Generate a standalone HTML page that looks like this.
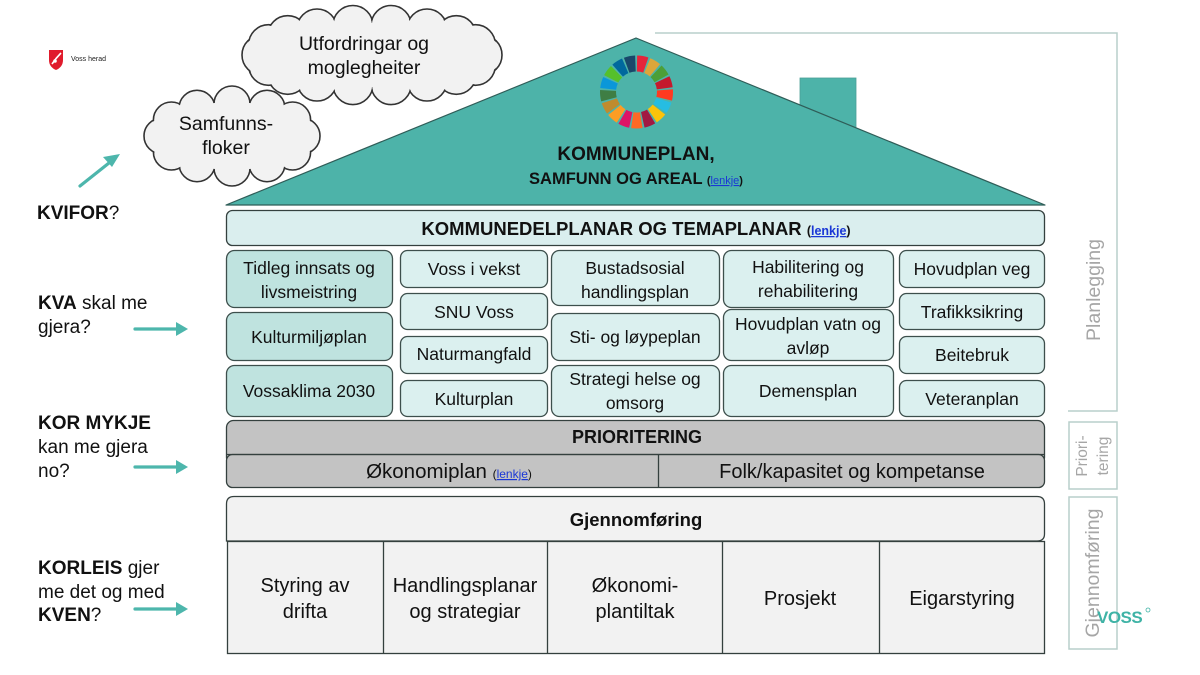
<!DOCTYPE html>
<html>
<head>
<meta charset="utf-8">
<style>
  html,body{margin:0;padding:0;background:#ffffff;}
  body{width:1200px;height:675px;overflow:hidden;}
  svg{display:block;}
</style>
</head>
<body>
<svg width="1200" height="675" viewBox="0 0 1200 675" xmlns="http://www.w3.org/2000/svg" font-family="Liberation Sans, sans-serif">
  <rect width="1200" height="675" fill="#ffffff"/>

  <!-- Logo -->
  <path d="M49,50 L63,50 L63,60 Q63,67 56,70 Q49,67 49,60 Z" fill="#e01b2c"/>
  <path d="M52,64 Q56,58 61,53" stroke="#ffffff" stroke-width="1.6" fill="none"/>
  <circle cx="55" cy="61" r="1.8" fill="#ffffff"/>
  <text x="71" y="61" font-size="7" fill="#222">Voss herad</text>

  <!-- Cloud: Utfordringar -->
  <g stroke="#333" stroke-width="1.6" fill="#f2f2f2">
    <circle cx="482" cy="55" r="20"/>
    <circle cx="475.4" cy="65.3" r="20"/>
    <circle cx="456.3" cy="74.3" r="20"/>
    <circle cx="427" cy="81" r="20"/>
    <circle cx="391.1" cy="84.6" r="20"/>
    <circle cx="352.9" cy="84.6" r="20"/>
    <circle cx="317" cy="81" r="20"/>
    <circle cx="287.7" cy="74.3" r="20"/>
    <circle cx="268.6" cy="65.3" r="20"/>
    <circle cx="262" cy="55" r="20"/>
    <circle cx="268.6" cy="44.7" r="20"/>
    <circle cx="287.7" cy="35.7" r="20"/>
    <circle cx="317" cy="29" r="20"/>
    <circle cx="352.9" cy="25.5" r="20"/>
    <circle cx="391.1" cy="25.5" r="20"/>
    <circle cx="427" cy="29" r="20"/>
    <circle cx="456.3" cy="35.7" r="20"/>
    <circle cx="475.4" cy="44.7" r="20"/>
  </g>
  <g fill="#f2f2f2">
    <circle cx="482" cy="55" r="19"/>
    <circle cx="475.4" cy="65.3" r="19"/>
    <circle cx="456.3" cy="74.3" r="19"/>
    <circle cx="427" cy="81" r="19"/>
    <circle cx="391.1" cy="84.6" r="19"/>
    <circle cx="352.9" cy="84.6" r="19"/>
    <circle cx="317" cy="81" r="19"/>
    <circle cx="287.7" cy="74.3" r="19"/>
    <circle cx="268.6" cy="65.3" r="19"/>
    <circle cx="262" cy="55" r="19"/>
    <circle cx="268.6" cy="44.7" r="19"/>
    <circle cx="287.7" cy="35.7" r="19"/>
    <circle cx="317" cy="29" r="19"/>
    <circle cx="352.9" cy="25.5" r="19"/>
    <circle cx="391.1" cy="25.5" r="19"/>
    <circle cx="427" cy="29" r="19"/>
    <circle cx="456.3" cy="35.7" r="19"/>
    <circle cx="475.4" cy="44.7" r="19"/>
    <ellipse cx="372" cy="55" rx="112" ry="32"/>
  </g>
  <text x="364" y="50" font-size="19.5" text-anchor="middle" fill="#111">Utfordringar og</text>
  <text x="364" y="74" font-size="19.5" text-anchor="middle" fill="#111">moglegheiter</text>

  <!-- Cloud: Samfunns-floker -->
  <g stroke="#333" stroke-width="1.6" fill="#f2f2f2">
    <circle cx="302" cy="136" r="18"/>
    <circle cx="292.6" cy="152" r="18"/>
    <circle cx="267" cy="163.7" r="18"/>
    <circle cx="232" cy="168" r="18"/>
    <circle cx="197" cy="163.7" r="18"/>
    <circle cx="171.4" cy="152" r="18"/>
    <circle cx="162" cy="136" r="18"/>
    <circle cx="171.4" cy="120" r="18"/>
    <circle cx="197" cy="108.3" r="18"/>
    <circle cx="232" cy="104" r="18"/>
    <circle cx="267" cy="108.3" r="18"/>
    <circle cx="292.6" cy="120" r="18"/>
  </g>
  <g fill="#f2f2f2">
    <circle cx="302" cy="136" r="17"/>
    <circle cx="292.6" cy="152" r="17"/>
    <circle cx="267" cy="163.7" r="17"/>
    <circle cx="232" cy="168" r="17"/>
    <circle cx="197" cy="163.7" r="17"/>
    <circle cx="171.4" cy="152" r="17"/>
    <circle cx="162" cy="136" r="17"/>
    <circle cx="171.4" cy="120" r="17"/>
    <circle cx="197" cy="108.3" r="17"/>
    <circle cx="232" cy="104" r="17"/>
    <circle cx="267" cy="108.3" r="17"/>
    <circle cx="292.6" cy="120" r="17"/>
    <ellipse cx="232" cy="136" rx="72" ry="34"/>
  </g>
  <text x="226" y="130" font-size="19.5" text-anchor="middle" fill="#111">Samfunns-</text>
  <text x="226" y="154" font-size="19.5" text-anchor="middle" fill="#111">floker</text>

  <!-- Left labels -->
  <g font-size="19" fill="#111">
    <text x="37" y="219"><tspan font-weight="bold">KVIFOR</tspan>?</text>
    <text x="38" y="309"><tspan font-weight="bold">KVA</tspan> skal me</text>
    <text x="38" y="333">gjera?</text>
    <text x="38" y="429" font-weight="bold">KOR MYKJE</text>
    <text x="38" y="453">kan me gjera</text>
    <text x="38" y="477">no?</text>
    <text x="38" y="574"><tspan font-weight="bold">KORLEIS</tspan> gjer</text>
    <text x="38" y="598">me det og med</text>
    <text x="38" y="621"><tspan font-weight="bold">KVEN</tspan>?</text>
  </g>

  <!-- Arrows -->
  <g stroke="#4db6ac" stroke-width="3.2" fill="none" stroke-linecap="round">
    <line x1="80" y1="186" x2="114" y2="159"/>
    <line x1="135" y1="329" x2="181" y2="329"/>
    <line x1="135" y1="467" x2="181" y2="467"/>
    <line x1="135" y1="609" x2="181" y2="609"/>
  </g>
  <g fill="#4db6ac">
    <polygon points="120,154 103,157 112,167"/>
    <polygon points="188,329 176,322 176,336"/>
    <polygon points="188,467 176,460 176,474"/>
    <polygon points="188,609 176,602 176,616"/>
  </g>

  <!-- Right brackets -->
  <g stroke="#b9cfcb" stroke-width="1.5" fill="none">
    <polyline points="655,33 1117,33 1117,411 1068,411"/>
    <rect x="1069" y="422" width="48" height="67"/>
    <rect x="1069" y="497" width="48" height="152"/>
  </g>
  <text transform="translate(1100,290) rotate(-90)" font-size="19.5" text-anchor="middle" fill="#a6a6a6">Planlegging</text>
  <text transform="translate(1087,456) rotate(-90)" font-size="15.5" text-anchor="middle" fill="#a6a6a6">Priori-</text>
  <text transform="translate(1108,456) rotate(-90)" font-size="15.5" text-anchor="middle" fill="#a6a6a6">tering</text>
  <text transform="translate(1099,573) rotate(-90)" font-size="19.5" text-anchor="middle" fill="#a6a6a6">Gjennomføring</text>
  <text x="1097" y="623" font-size="17" font-weight="bold" fill="#3fb3a6" letter-spacing="-0.5">VOSS</text>
  <circle cx="1148" cy="610" r="2" fill="none" stroke="#3fb3a6" stroke-width="0.8"/>

  <!-- Chimney -->
  <rect x="800" y="78" width="56" height="60" fill="#4db3a9" stroke="#4a9f96" stroke-width="0.8"/>

  <!-- Roof -->
  <polygon points="226,205 636,38 1045,205" fill="#4db3a9" stroke="#2f5d58" stroke-width="1.2" stroke-linejoin="round"/>

  <!-- SDG wheel -->
  <g fill="none" stroke-width="16">
    <circle cx="636.5" cy="92" r="28.5" stroke="#E5243B" stroke-dasharray="9 170" transform="rotate(-89 636.5 92)"/>
    <circle cx="636.5" cy="92" r="28.5" stroke="#DDA63A" stroke-dasharray="9 170" transform="rotate(-67.8 636.5 92)"/>
    <circle cx="636.5" cy="92" r="28.5" stroke="#4C9F38" stroke-dasharray="9 170" transform="rotate(-46.6 636.5 92)"/>
    <circle cx="636.5" cy="92" r="28.5" stroke="#C5192D" stroke-dasharray="9 170" transform="rotate(-25.5 636.5 92)"/>
    <circle cx="636.5" cy="92" r="28.5" stroke="#FF3A21" stroke-dasharray="9 170" transform="rotate(-4.3 636.5 92)"/>
    <circle cx="636.5" cy="92" r="28.5" stroke="#26BDE2" stroke-dasharray="9 170" transform="rotate(16.9 636.5 92)"/>
    <circle cx="636.5" cy="92" r="28.5" stroke="#FCC30B" stroke-dasharray="9 170" transform="rotate(38.1 636.5 92)"/>
    <circle cx="636.5" cy="92" r="28.5" stroke="#A21942" stroke-dasharray="9 170" transform="rotate(59.2 636.5 92)"/>
    <circle cx="636.5" cy="92" r="28.5" stroke="#FD6925" stroke-dasharray="9 170" transform="rotate(80.4 636.5 92)"/>
    <circle cx="636.5" cy="92" r="28.5" stroke="#DD1367" stroke-dasharray="9 170" transform="rotate(101.6 636.5 92)"/>
    <circle cx="636.5" cy="92" r="28.5" stroke="#FD9D24" stroke-dasharray="9 170" transform="rotate(122.8 636.5 92)"/>
    <circle cx="636.5" cy="92" r="28.5" stroke="#BF8B2E" stroke-dasharray="9 170" transform="rotate(143.9 636.5 92)"/>
    <circle cx="636.5" cy="92" r="28.5" stroke="#3F7E44" stroke-dasharray="9 170" transform="rotate(165.1 636.5 92)"/>
    <circle cx="636.5" cy="92" r="28.5" stroke="#0A97D9" stroke-dasharray="9 170" transform="rotate(186.3 636.5 92)"/>
    <circle cx="636.5" cy="92" r="28.5" stroke="#56C02B" stroke-dasharray="9 170" transform="rotate(207.5 636.5 92)"/>
    <circle cx="636.5" cy="92" r="28.5" stroke="#00689D" stroke-dasharray="9 170" transform="rotate(228.6 636.5 92)"/>
    <circle cx="636.5" cy="92" r="28.5" stroke="#19486A" stroke-dasharray="9 170" transform="rotate(249.8 636.5 92)"/>
  </g>

  <text x="636" y="160" font-size="19" font-weight="bold" text-anchor="middle" fill="#111">KOMMUNEPLAN,</text>
  <text x="636" y="184" text-anchor="middle" fill="#111"><tspan font-size="16.5" font-weight="bold">SAMFUNN OG AREAL </tspan><tspan font-size="11" font-weight="bold">(</tspan><tspan font-size="11" fill="#1a37d6" text-decoration="underline">lenkje</tspan><tspan font-size="11" font-weight="bold">)</tspan></text>

  <!-- Header row -->
  <rect x="226.5" y="210.5" width="818" height="35" rx="6" fill="#daeeee" stroke="#34403e" stroke-width="1.3"/>
  <text x="636" y="235" text-anchor="middle" fill="#111"><tspan font-size="18.5" font-weight="bold">KOMMUNEDELPLANAR OG TEMAPLANAR </tspan><tspan font-size="12.5" font-weight="bold">(</tspan><tspan font-size="12.5" font-weight="bold" fill="#1a37d6" text-decoration="underline">lenkje</tspan><tspan font-size="12.5" font-weight="bold">)</tspan></text>

  <!-- Plan boxes -->
  <g stroke="#3d4f4c" stroke-width="1.3">
    <rect x="226.5" y="250.5" width="166" height="57" rx="8" fill="#bfe3df"/>
    <rect x="226.5" y="312.5" width="166" height="48" rx="8" fill="#bfe3df"/>
    <rect x="226.5" y="365.5" width="166" height="51" rx="8" fill="#bfe3df"/>

    <rect x="400.5" y="250.5" width="147" height="37" rx="7" fill="#dbf0ef"/>
    <rect x="400.5" y="293.5" width="147" height="36" rx="7" fill="#dbf0ef"/>
    <rect x="400.5" y="336.5" width="147" height="37" rx="7" fill="#dbf0ef"/>
    <rect x="400.5" y="380.5" width="147" height="36" rx="7" fill="#dbf0ef"/>

    <rect x="551.5" y="250.5" width="168" height="55" rx="8" fill="#dbf0ef"/>
    <rect x="551.5" y="313.5" width="168" height="47" rx="8" fill="#dbf0ef"/>
    <rect x="551.5" y="365.5" width="168" height="51" rx="8" fill="#dbf0ef"/>

    <rect x="723.5" y="250.5" width="170" height="57" rx="8" fill="#dbf0ef"/>
    <rect x="723.5" y="309.5" width="170" height="51" rx="8" fill="#dbf0ef"/>
    <rect x="723.5" y="365.5" width="170" height="51" rx="8" fill="#dbf0ef"/>

    <rect x="899.5" y="250.5" width="145" height="37" rx="7" fill="#dbf0ef"/>
    <rect x="899.5" y="293.5" width="145" height="36" rx="7" fill="#dbf0ef"/>
    <rect x="899.5" y="336.5" width="145" height="37" rx="7" fill="#dbf0ef"/>
    <rect x="899.5" y="380.5" width="145" height="36" rx="7" fill="#dbf0ef"/>
  </g>
  <g font-size="17.5" text-anchor="middle" fill="#111">
    <text x="309" y="274">Tidleg innsats og</text>
    <text x="309" y="298">livsmeistring</text>
    <text x="309" y="343">Kulturmiljøplan</text>
    <text x="309" y="397">Vossaklima 2030</text>

    <text x="474" y="275">Voss i vekst</text>
    <text x="474" y="318">SNU Voss</text>
    <text x="474" y="360">Naturmangfald</text>
    <text x="474" y="405">Kulturplan</text>

    <text x="635" y="274">Bustadsosial</text>
    <text x="635" y="298">handlingsplan</text>
    <text x="635" y="343">Sti- og løypeplan</text>
    <text x="635" y="385">Strategi helse og</text>
    <text x="635" y="409">omsorg</text>

    <text x="808" y="273">Habilitering og</text>
    <text x="808" y="297">rehabilitering</text>
    <text x="808" y="330">Hovudplan vatn og</text>
    <text x="808" y="354">avløp</text>
    <text x="808" y="397">Demensplan</text>

    <text x="972" y="275">Hovudplan veg</text>
    <text x="972" y="318">Trafikksikring</text>
    <text x="972" y="361">Beitebruk</text>
    <text x="972" y="405">Veteranplan</text>
  </g>

  <!-- Prioritering -->
  <rect x="226.5" y="420.5" width="818" height="44" rx="7" fill="#c3c3c3" stroke="#34403e" stroke-width="1.3"/>
  <rect x="226.5" y="454.5" width="818" height="33" rx="6" fill="#c3c3c3" stroke="#34403e" stroke-width="1.3"/>
  <line x1="658.5" y1="454.5" x2="658.5" y2="487.5" stroke="#34403e" stroke-width="1.3"/>
  <line x1="227" y1="454.5" x2="1044" y2="454.5" stroke="#34403e" stroke-width="1.3"/>
  <text x="637" y="443" font-size="18" font-weight="bold" text-anchor="middle" fill="#111">PRIORITERING</text>
  <text x="449" y="478" text-anchor="middle" fill="#111"><tspan font-size="20.5">Økonomiplan </tspan><tspan font-size="12">(</tspan><tspan font-size="12" fill="#1a37d6" text-decoration="underline">lenkje</tspan><tspan font-size="12">)</tspan></text>
  <text x="852" y="478" font-size="20" text-anchor="middle" fill="#111">Folk/kapasitet og kompetanse</text>

  <!-- Gjennomføring -->
  <path d="M226.5,541 L226.5,504 Q226.5,496.5 234,496.5 L1037,496.5 Q1044.5,496.5 1044.5,504 L1044.5,534 Q1044.5,541 1037,541 Z" fill="#f2f2f2" stroke="#34403e" stroke-width="1.3"/>
  <text x="636" y="526" font-size="18.5" font-weight="bold" text-anchor="middle" fill="#111">Gjennomføring</text>

  <rect x="227.5" y="541.5" width="817" height="112" fill="#f2f2f2" stroke="#34403e" stroke-width="1.3"/>
  <g stroke="#34403e" stroke-width="1.3">
    <line x1="383.5" y1="541" x2="383.5" y2="654"/>
    <line x1="547.5" y1="541" x2="547.5" y2="654"/>
    <line x1="722.5" y1="541" x2="722.5" y2="654"/>
    <line x1="879.5" y1="541" x2="879.5" y2="654"/>
  </g>
  <g font-size="20" text-anchor="middle" fill="#111">
    <text x="305" y="592">Styring av</text>
    <text x="305" y="618">drifta</text>
    <text x="465" y="592">Handlingsplanar</text>
    <text x="465" y="618">og strategiar</text>
    <text x="635" y="592">Økonomi-</text>
    <text x="635" y="618">plantiltak</text>
    <text x="800" y="605">Prosjekt</text>
    <text x="962" y="605">Eigarstyring</text>
  </g>
</svg>
</body>
</html>
